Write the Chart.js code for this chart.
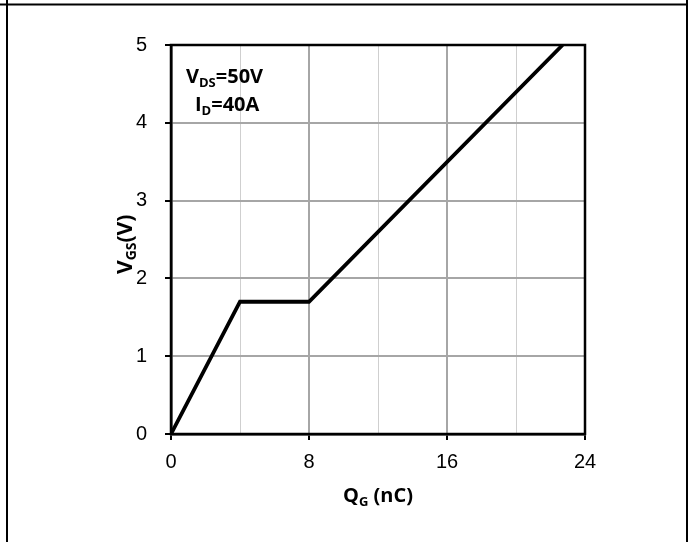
<!DOCTYPE html>
<html>
<head>
<meta charset="utf-8">
<script src="https://cdn.jsdelivr.net/npm/chart.js@4.4.1/dist/chart.umd.min.js"></script>
<style>
  html, body { margin: 0; padding: 0; background: #fff; }
  #box { width: 691px; height: 542px; position: relative; }
</style>
</head>
<body>
<div id="box"><canvas id="cvsGate"></canvas></div>
<script>
// dados da curva de carga de gate
const qg = [0, 4, 8, 22.7];      // nC
const vgs = [0, 1.7, 1.7, 5];    // V
const xTicks = [0, 8, 16, 24];
const yTicks = [0, 1, 2, 3, 4, 5];

const ctxGate = document.getElementById("cvsGate");

// moldura da tabela + borda da area do grafico + textos com subscrito
const extras = {
  id: "extras",
  beforeDraw(chart) {
    const c = chart.ctx;
    c.save();
    c.fillStyle = "#fff";
    c.fillRect(0, 0, chart.width, chart.height);
    c.strokeStyle = "#000";
    c.lineWidth = 2;
    c.beginPath();
    c.moveTo(0, 4.5); c.lineTo(688, 4.5);
    c.moveTo(7, 0); c.lineTo(7, 542);
    c.moveTo(687, 0); c.lineTo(687, 542);
    c.stroke();
    c.restore();
  },
  afterDatasetsDraw(chart) {
    const c = chart.ctx;
    const a = chart.chartArea;
    c.save();
    c.strokeStyle = "#000";
    c.lineWidth = 2.5;
    c.strokeRect(a.left, a.top, a.right - a.left, a.bottom - a.top);

    c.fillStyle = "#000";
    c.textBaseline = "alphabetic";
    // texto com subscrito: [texto, sub, resto]
    function sub(x, y, t, s, r, size) {
      c.font = "bold " + size + "px 'Open Sans', sans-serif";
      c.fillText(t, x, y);
      let w = c.measureText(t).width;
      c.font = "bold " + Math.round(size * 0.65) + "px 'Open Sans', sans-serif";
      c.fillText(s, x + w, y + 4);
      w += c.measureText(s).width;
      c.font = "bold " + size + "px 'Open Sans', sans-serif";
      c.fillText(r, x + w, y);
    }
    sub(186, 83, "V", "DS", "=50V", 20);
    sub(195, 111, "I", "D", "=40A", 20);

    // titulo do eixo x
    sub(343, 502, "Q", "G", " (nC)", 20);

    // titulo do eixo y (rotacionado)
    c.translate(132, 274);
    c.rotate(-Math.PI / 2);
    sub(0, 0, "V", "GS", "(V)", 21);
    c.restore();
  }
};

new Chart(ctxGate, {
  type: "scatter",
  data: {
    datasets: [{
      data: qg.map((x, i) => ({ x: x, y: vgs[i] })),
      showLine: true,
      borderColor: "#000",
      borderWidth: 3.8,
      pointRadius: 0,
      tension: 0
    }]
  },
  options: {
    responsive: true,
    maintainAspectRatio: false,
    animation: false,
    layout: { padding: { left: 0, top: 45, right: 106, bottom: 0 } },
    plugins: { legend: { display: false }, tooltip: { enabled: false } },
    scales: {
      x: {
        min: 0, max: 24,
        ticks: {
          stepSize: 4,
          padding: 10,
          color: "#000",
          font: { family: "'Liberation Sans', Arial, sans-serif", size: 20 },
          callback: v => xTicks.includes(v) ? v : ""
        },
        grid: {
          color: c => (c.tick && c.tick.value % 8 === 0) ? "#a6a6a6" : "#cfcfcf",
          lineWidth: c => (c.tick && c.tick.value % 8 === 0) ? 2 : 1,
          tickColor: c => (c.tick && c.tick.value % 8 === 0) ? "#000" : "rgba(0,0,0,0)",
          tickLength: 6,
          tickWidth: 2
        },
        border: { color: "#000", width: 2.5 },
        afterFit: s => { s.height = 108; }
      },
      y: {
        min: 0, max: 5,
        ticks: {
          stepSize: 1,
          padding: 18,
          color: "#000",
          font: { family: "'Liberation Sans', Arial, sans-serif", size: 20 },
          callback: v => yTicks.includes(v) ? v : ""
        },
        grid: {
          color: "#a6a6a6",
          lineWidth: 2,
          tickColor: "#000",
          tickLength: 6,
          tickWidth: 2
        },
        border: { color: "#000", width: 2.5 },
        afterFit: s => { s.width = 171; }
      }
    }
  },
  plugins: [extras]
});
</script>
</body>
</html>
